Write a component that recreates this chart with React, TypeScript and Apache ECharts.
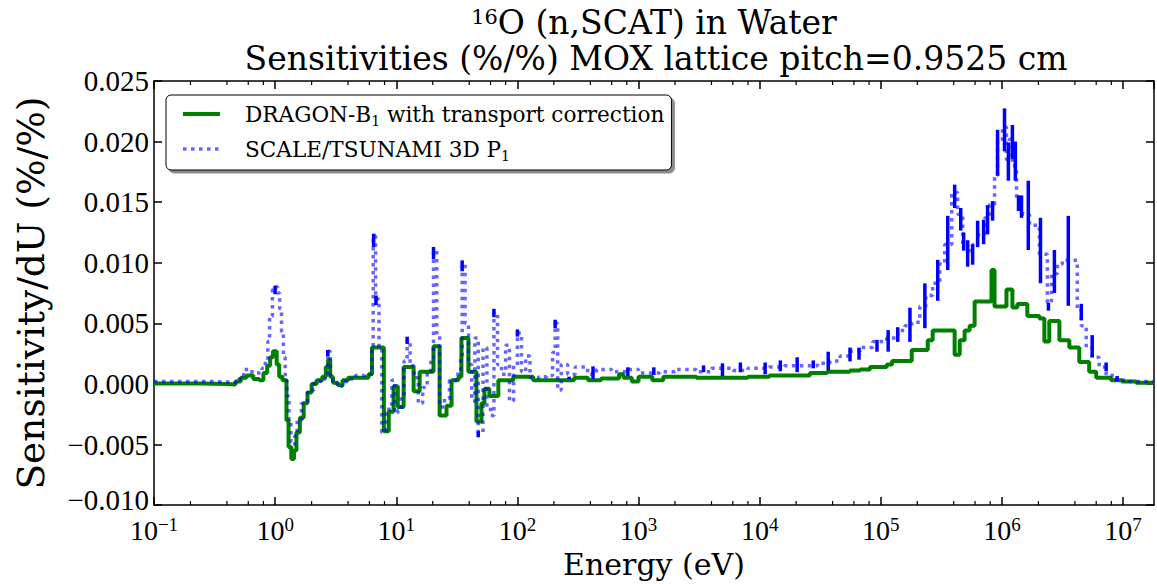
import React, { useEffect, useRef } from "react";
import * as echarts from "echarts";

// ---- data (energies in eV, sensitivities in %/%) ----
const xMin = 0.1;
const xMax = 1.8e7;

const dragonE = [0.1, 0.25, 0.4, 0.47, 0.52, 0.58, 0.66, 0.74, 0.8, 0.86, 0.91, 0.96, 1.03, 1.08, 1.15, 1.24, 1.29, 1.36, 1.43, 1.5, 1.6, 1.72, 1.85, 2.0, 2.2, 2.45, 2.62, 2.74, 2.85, 3.0, 3.3, 3.6, 4.0, 5.9, 6.3, 7.9, 8.67, 9.5, 10.3, 11.5, 13.9, 15.6, 20.3, 22.8, 26.0, 28.6, 32.6, 34.5, 39.4, 45.9, 50.5, 53.4, 58.7, 69.6, 92.5, 135, 294, 383, 490, 690, 750, 880, 1000, 1300, 1600, 3000, 8000, 12000, 26000, 36000, 55700, 67400, 81400, 112000, 124000, 180000, 244000, 268000, 407000, 448000, 492000, 541000, 595000, 820000, 869000, 1.09e6, 1.22e6, 1.34e6, 1.62e6, 2.04e6, 2.24e6, 2.46e6, 2.98e6, 3.6e6, 4.35e6, 5.25e6, 6.0e6, 7.96e6, 9.8e6, 1.28e7];
const dragonV = [0.00003, 0.0, -0.00005, 0.0002, 0.0005, 0.0007, 0.0004, 0.0003, 0.0009, 0.0015, 0.0022, 0.0027, 0.0016, 0.0006, 0.0003, -0.003, -0.0052, -0.0062, -0.0055, -0.004, -0.0028, -0.0016, -0.0007, 0.0, 0.0003, 0.0006, 0.0014, 0.002, 0.0006, 0.0001, -0.0001, 0.0003, 0.0005, 0.0008, 0.003, -0.0039, -0.0023, -0.0002, -0.0019, 0.0014, -0.0006, 0.001, 0.0031, -0.0026, -0.0018, 0.0003, 0.0006, 0.0038, 0.001, -0.0031, -0.0016, -0.0004, -0.001, 0.0003, 0.0006, 0.0003, 0.0005, 0.0003, 0.00045, 0.0008, 0.0005, 0.0002, 0.0006, 0.0003, 0.0006, 0.0005, 0.0006, 0.0007, 0.0009, 0.001, 0.0011, 0.0012, 0.0014, 0.0016, 0.0019, 0.0028, 0.0036, 0.0044, 0.0024, 0.0036, 0.0044, 0.0048, 0.0068, 0.0094, 0.0064, 0.0078, 0.0063, 0.0066, 0.0056, 0.0054, 0.0035, 0.0052, 0.0036, 0.003, 0.0018, 0.001, 0.0005, 0.0003, 0.0002, 0.0001];

const scaleE = [0.1, 0.3, 0.45, 0.5, 0.55, 0.62, 0.7, 0.78, 0.83, 0.87, 0.9, 0.95, 1.0, 1.05, 1.09, 1.13, 1.17, 1.21, 1.25, 1.3, 1.35, 1.4, 1.45, 1.52, 1.65, 1.85, 2.1, 2.4, 2.6, 2.72, 2.85, 3.0, 3.3, 3.6, 4.0, 4.6, 5.5, 6.0, 6.3, 6.45, 6.75, 7.2, 7.6, 8.2, 8.7, 9.2, 9.7, 10.3, 11.0, 11.6, 12.3, 13.0, 14.0, 15.2, 16.5, 18.0, 19.3, 20.3, 21.6, 22.8, 25.0, 27.5, 31.0, 34.0, 35.0, 37.0, 39.5, 42.0, 44.5, 47.5, 52.0, 56.0, 60.0, 64.0, 68.5, 74.0, 80.0, 86.0, 93.0, 100, 108, 117, 127, 150, 175, 195, 205, 215, 230, 260, 300, 380, 450, 600, 800, 1000, 1500, 2000, 3000, 4000, 6000, 8000, 12000, 16000, 22000, 30000, 38000, 46100, 55700, 67400, 86000, 112000, 138000, 158000, 180000, 210000, 235000, 268000, 307000, 337000, 385000, 431000, 474000, 521000, 573000, 630000, 719000, 791000, 869000, 920000, 1.01e6, 1.09e6, 1.15e6, 1.22e6, 1.32e6, 1.4e6, 1.48e6, 1.69e6, 2.04e6, 2.37e6, 2.56e6, 2.87e6, 3.15e6, 4.19e6, 4.52e6, 4.96e6, 5.56e6, 6.35e6, 7.25e6, 8.77e6, 1.12e7];
const scaleV = [0.0002, 0.00015, 0.0001, 0.0004, 0.0012, 0.001, 0.0009, 0.0013, 0.0019, 0.0035, 0.0056, 0.0078, 0.008, 0.0075, 0.0062, 0.0043, 0.0022, 0.0003, -0.001, -0.0032, -0.0048, -0.005, -0.0043, -0.003, -0.0016, -0.0005, 0.0002, 0.0004, 0.0008, 0.0027, 0.0005, 0.0, -0.0002, 0.0002, 0.0004, 0.0007, 0.0008, 0.0008, 0.003, 0.0122, 0.007, 0.003, -0.004, -0.0024, -0.0019, 0.0003, -0.0024, -0.0022, -0.001, 0.0019, 0.0036, 0.0015, 0.0005, -0.0016, -0.0003, 0.001, 0.0022, 0.011, 0.004, -0.0019, -0.0012, 0.0003, 0.0008, 0.0022, 0.0099, 0.005, 0.0016, -0.0014, 0.0038, -0.004, 0.003, -0.0019, -0.0026, 0.0059, 0.0016, 0.0008, 0.0032, -0.0014, 0.0015, 0.0042, 0.001, 0.0023, 0.0005, 0.0006, 0.0007, 0.0026, 0.005, -0.0005, 0.0016, 0.0008, 0.0014, 0.0008, 0.0012, 0.001, 0.0012, 0.0009, 0.001, 0.0012, 0.001, 0.0013, 0.0011, 0.0013, 0.0014, 0.0015, 0.0015, 0.0017, 0.0019, 0.0023, 0.0027, 0.003, 0.0035, 0.0038, 0.0044, 0.0048, 0.0051, 0.0064, 0.0073, 0.0083, 0.0099, 0.0115, 0.0158, 0.014, 0.0115, 0.011, 0.0115, 0.0123, 0.0137, 0.0148, 0.0172, 0.0202, 0.0212, 0.0185, 0.0202, 0.018, 0.0153, 0.0145, 0.014, 0.0131, 0.0107, 0.0067, 0.0091, 0.0099, 0.0102, 0.0062, 0.0048, 0.003, 0.0022, 0.0014, 0.0007, 0.0003, 0.0002];

const errE = [1.0, 2.72, 6.5, 6.8, 12.3, 20.3, 35.0, 47.5, 64.0, 100, 205, 267, 421, 816, 1337, 3440, 4930, 6930, 11100, 14800, 20400, 27700, 36800, 55700, 66100, 93000, 115000, 138000, 174000, 231000, 295000, 357000, 407000, 457000, 483000, 521000, 573000, 630000, 706000, 761000, 837000, 920000, 1.05e6, 1.13e6, 1.22e6, 1.29e6, 1.37e6, 1.45e6, 1.65e6, 2.08e6, 2.42e6, 2.71e6, 3.53e6, 4.52e6, 5.56e6, 7.25e6, 8.93e6];
const errLo = [0.0074, 0.0023, 0.0113, 0.0065, 0.0033, 0.0103, 0.0093, -0.0044, 0.0055, 0.0039, 0.0046, 0.0004, 0.0004, 0.00065, 0.00073, 0.00097, 0.00065, 0.00097, 0.0008, 0.00105, 0.00097, 0.00129, 0.00113, 0.00186, 0.002, 0.00266, 0.00266, 0.00347, 0.00347, 0.0046, 0.00686, 0.0094, 0.01452, 0.01266, 0.011, 0.00968, 0.00984, 0.01129, 0.01153, 0.01234, 0.01347, 0.01718, 0.01919, 0.01677, 0.01855, 0.01677, 0.01427, 0.01371, 0.01105, 0.00831, 0.00605, 0.0075, 0.00645, 0.00524, 0.00218, 0.00105, 0.00024];
const errHi = [0.0081, 0.0028, 0.0124, 0.0073, 0.0039, 0.0113, 0.0102, -0.0039, 0.0062, 0.0045, 0.0053, 0.0006, 0.00145, 0.00137, 0.00137, 0.00153, 0.0017, 0.00177, 0.00177, 0.00194, 0.0022, 0.00194, 0.00266, 0.003, 0.003, 0.00363, 0.00444, 0.00468, 0.00629, 0.0083, 0.01024, 0.01387, 0.01645, 0.01452, 0.0125, 0.01186, 0.01153, 0.01347, 0.01355, 0.01476, 0.01508, 0.02097, 0.02274, 0.01992, 0.02137, 0.02, 0.01556, 0.01556, 0.01677, 0.01371, 0.00669, 0.01105, 0.01387, 0.00661, 0.00403, 0.00177, 0.00065];

const decades = [-1, 0, 1, 2, 3, 4, 5, 6, 7];
const minorSubs = [2, 4, 6, 8];

const DRAGON = "DRAGON-B1 with transport correction";
const SCALE = "SCALE/TSUNAMI 3D P1";

const WORD_FONT = "DejaVu Serif";
const NUM_FONT = "Liberation Serif";

const GREEN = "#008000";
const BLUE_DOT = "rgba(0,0,255,0.6)";
const BLUE_ERR = "#0000ff";

function stepData(E: number[], V: number[]) {
  const d = E.map((e, i) => [e, V[i]]);
  d.push([xMax, V[V.length - 1]]);
  return d;
}

export default function App() {
  const ref = useRef<HTMLDivElement>(null);
  useEffect(() => {
    if (!ref.current) return;
    const chart = echarts.init(ref.current, null, { renderer: "svg" });
    const minorTicks: number[][] = [];
    decades.forEach((d) => {
      minorSubs.forEach((s) => {
        const v = s * Math.pow(10, d);
        if (v < xMax) minorTicks.push([v, 0]);
      });
    });

    const xLabel = (v: number) => {
      const l = Math.log10(v);
      const r = Math.round(l);
      if (Math.abs(l - r) > 1e-6) return "";
      const ex = r < 0 ? "\u2212" + -r : String(r);
      return "{b|10}{e|" + ex + "}";
    };

    const yLabel = (v: number) => {
      const s = (v < -1e-9 ? "\u2212" : "") + Math.abs(v).toFixed(3);
      return v < -0.0099 ? "{m|" + s + "}" : s;
    };

    const axisLineStyle = { color: "#000", width: 1.5 };
    const tickStyle = { color: "#000", width: 1.5 };

    chart.setOption({
      animation: false,
      backgroundColor: "#fff",
      grid: { left: 154, right: 3, top: 81, bottom: 71, containLabel: false },
      graphic: [
        {
          type: "text",
          x: 654,
          y: 22,
          style: {
            text: "{s|16}{t|O (n,SCAT) in Water}",
            align: "center",
            textAlign: "center",
            verticalAlign: "middle",
            textVerticalAlign: "middle",
            fill: "#000",
            rich: {
              s: { fontFamily: WORD_FONT, fontSize: 21, verticalAlign: "top", lineHeight: 20, fill: "#000" },
              t: { fontFamily: WORD_FONT, fontSize: 33, lineHeight: 31, fill: "#000" },
            },
          },
        },
        {
          type: "text",
          x: 656,
          y: 58,
          style: {
            text: "Sensitivities (%/%) MOX lattice pitch=0.9525 cm",
            align: "center",
            textAlign: "center",
            verticalAlign: "middle",
            textVerticalAlign: "middle",
            fontFamily: WORD_FONT,
            fontSize: 33,
            lineHeight: 33,
            fill: "#000",
          },
        },
      ],
      legend: {
        orient: "vertical",
        left: 166,
        top: 95,
        padding: [8, 7, 7, 15],
        itemWidth: 37,
        itemHeight: 14,
        itemGap: 10,
        backgroundColor: "#fff",
        borderColor: "#000",
        borderWidth: 1,
        borderRadius: 5,
        shadowColor: "rgba(0,0,0,0.45)",
        shadowOffsetX: 3,
        shadowOffsetY: 3,
        shadowBlur: 0,
        itemStyle: { opacity: 0, color: "transparent", borderWidth: 0 },
        data: [
          { name: DRAGON, lineStyle: { color: GREEN, width: 4, type: "solid" } },
          { name: SCALE, lineStyle: { color: BLUE_DOT, width: 3.5, type: [3.5, 4.5] } },
        ],
        formatter: (name: string) =>
          name === DRAGON
            ? "{t|DRAGON-B}{s|1}{t| with transport correction}"
            : "{t|SCALE/TSUNAMI 3D P}{s|1}",
        textStyle: {
          color: "#000",
          fontFamily: WORD_FONT,
          fontSize: 21.6,
          padding: [0, 0, 0, 20],
          rich: {
            t: { fontFamily: WORD_FONT, fontSize: 21.6, lineHeight: 28, color: "#000" },
            s: { fontFamily: WORD_FONT, fontSize: 14, lineHeight: 18, verticalAlign: "bottom", color: "#000" },
          },
        },
      },
      xAxis: [
        {
          type: "log",
          logBase: 10,
          min: xMin,
          max: xMax,
          name: "Energy (eV)",
          nameLocation: "middle",
          nameGap: 33,
          nameTextStyle: { fontFamily: WORD_FONT, fontSize: 30, color: "#000" },
          axisLine: { show: true, onZero: false, lineStyle: axisLineStyle },
          axisTick: { show: true, inside: true, length: 8, lineStyle: tickStyle },
          splitLine: { show: false },
          axisLabel: {
            show: true,
            margin: 10,
            showMaxLabel: false,
            formatter: xLabel,
            rich: {
              b: { fontFamily: NUM_FONT, fontSize: 28, lineHeight: 30, color: "#000" },
              e: { fontFamily: NUM_FONT, fontSize: 19, lineHeight: 17, verticalAlign: "top", color: "#000" },
            },
          },
        },
        {
          type: "log",
          logBase: 10,
          position: "top",
          min: xMin,
          max: xMax,
          axisLine: { show: true, onZero: false, lineStyle: axisLineStyle },
          axisTick: { show: true, inside: true, length: 8, lineStyle: tickStyle },
          splitLine: { show: false },
          axisLabel: { show: false },
        },
      ],
      yAxis: [
        {
          type: "value",
          min: -0.01,
          max: 0.025,
          interval: 0.005,
          name: "Sensitivity/dU (%/%)",
          nameLocation: "middle",
          nameGap: 104,
          nameTextStyle: { fontFamily: WORD_FONT, fontSize: 37.5, color: "#000" },
          axisLine: { show: true, onZero: false, lineStyle: axisLineStyle },
          axisTick: { show: true, inside: true, length: 8, lineStyle: tickStyle },
          splitLine: { show: false },
          axisLabel: {
            margin: 5,
            fontFamily: NUM_FONT,
            fontSize: 29,
            color: "#000",
            formatter: yLabel,
            rich: {
              m: { fontFamily: NUM_FONT, fontSize: 29, color: "#000", padding: [0, 0, 10, 0] },
            },
          },
        },
        {
          type: "value",
          position: "right",
          min: -0.01,
          max: 0.025,
          interval: 0.005,
          axisLine: { show: true, onZero: false, lineStyle: axisLineStyle },
          axisTick: { show: true, inside: true, length: 8, lineStyle: tickStyle },
          splitLine: { show: false },
          axisLabel: { show: false },
        },
      ],
      series: [
        {
          name: DRAGON,
          type: "line",
          step: "end",
          symbol: "none",
          data: stepData(dragonE, dragonV),
          lineStyle: { color: GREEN, width: 4 },
          itemStyle: { color: GREEN },
          z: 2,
        },
        {
          name: SCALE,
          type: "line",
          step: "end",
          symbol: "none",
          data: stepData(scaleE, scaleV),
          lineStyle: { color: BLUE_DOT, width: 3.5, type: [3.5, 4.5] },
          itemStyle: { color: BLUE_DOT },
          z: 3,
        },
        {
          name: "errors",
          type: "custom",
          silent: true,
          z: 4,
          data: errE.map((e, i) => [e, errLo[i], errHi[i]]),
          encode: { x: 0, y: [1, 2] },
          renderItem: (params: any, api: any) => {
            const p1 = api.coord([api.value(0), api.value(1)]);
            const p2 = api.coord([api.value(0), api.value(2)]);
            return {
              type: "line",
              shape: { x1: p1[0], y1: p1[1], x2: p2[0], y2: p2[1] },
              style: { stroke: BLUE_ERR, lineWidth: 3.5 },
            };
          },
        },
        {
          name: "minor",
          type: "custom",
          silent: true,
          z: 5,
          clip: false,
          data: minorTicks,
          encode: { x: 0, y: 1 },
          renderItem: (params: any, api: any) => {
            const cs = params.coordSys;
            const p = api.coord([api.value(0), 0]);
            const yb = cs.y + cs.height;
            const yt = cs.y;
            return {
              type: "group",
              children: [
                { type: "line", shape: { x1: p[0], y1: yb, x2: p[0], y2: yb - 4 }, style: { stroke: "#000", lineWidth: 1.2 } },
                { type: "line", shape: { x1: p[0], y1: yt, x2: p[0], y2: yt + 4 }, style: { stroke: "#000", lineWidth: 1.2 } },
              ],
            };
          },
        },
      ],
    });
    return () => chart.dispose();
  }, []);
  return (
    <div
      ref={ref}
      style={{ position: "fixed", left: 0, top: 0, width: 1157, height: 584, background: "#fff" }}
    />
  );
}
